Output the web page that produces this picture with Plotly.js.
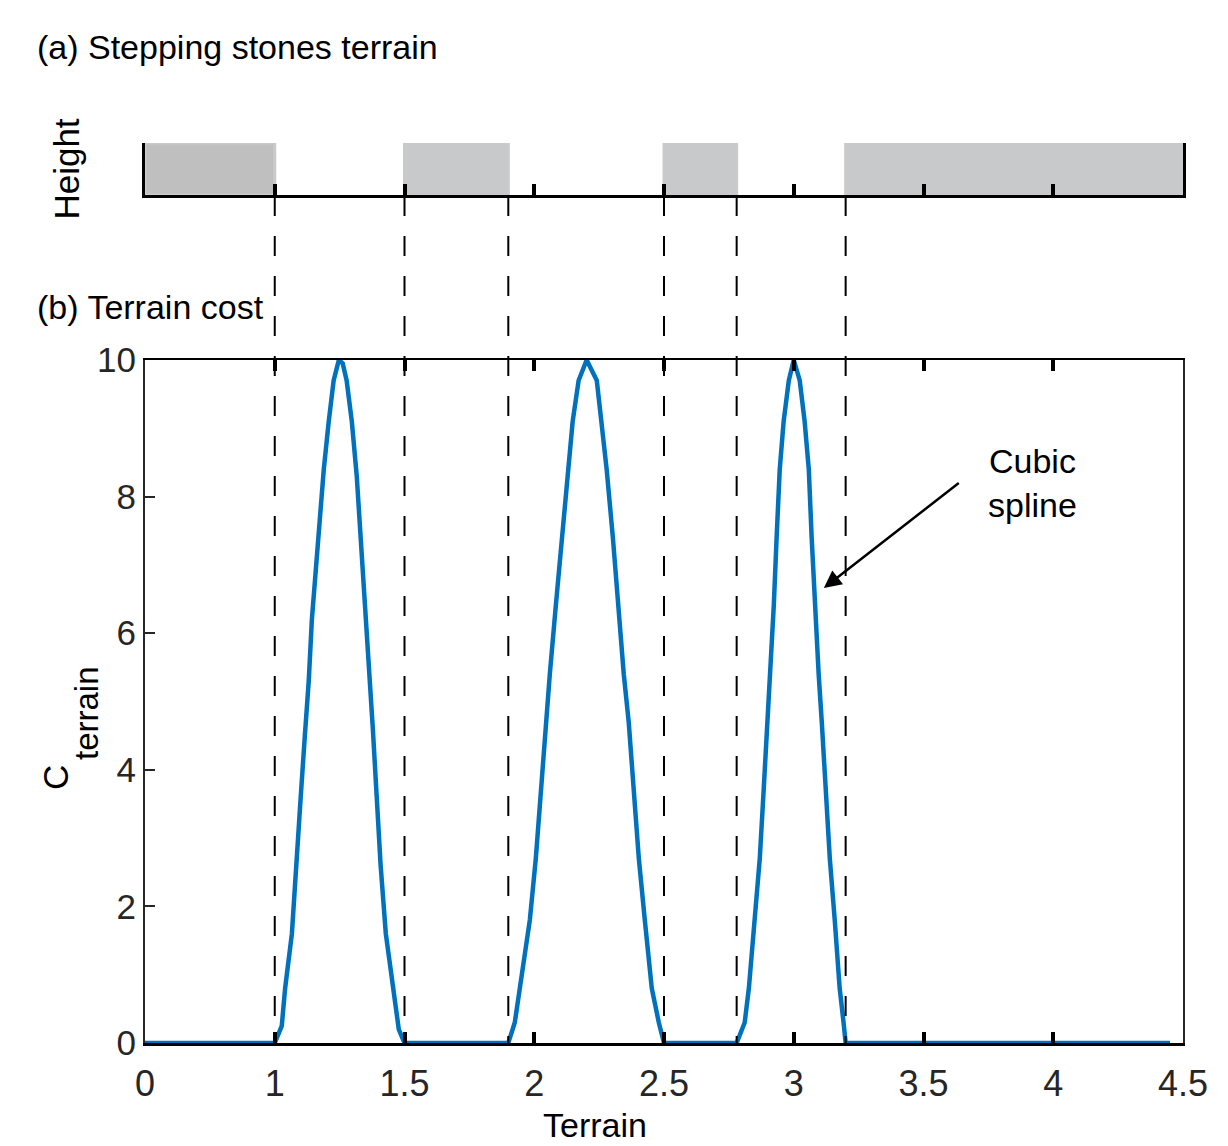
<!DOCTYPE html>
<html>
<head>
<meta charset="utf-8">
<script src="https://cdn.plot.ly/plotly-3.0.1.min.js"></script>
<style>html,body{margin:0;padding:0;background:#fff;}#chart{width:1228px;height:1146px;}</style>
</head>
<body>
<div id="chart"></div>
<script>
// ---------- data ----------
// stepping stones (terrain x-positions of each stone's start and end, height)
const stoneStart = [0.5, 1.5, 2.5, 3.2];
const stoneEnd   = [1.0, 1.9, 2.78, 4.5];
const stoneHeight = [1, 1, 1, 1];

// boundaries of the stones (dashed guide lines)
const stoneEdges = [1.0, 1.5, 1.9, 2.5, 2.78, 3.2];

// terrain cost curve (cubic spline)
const costX = [
  0.5, 1.0, 1.027, 1.04, 1.066, 1.081, 1.1, 1.116, 1.131, 1.143, 1.162, 1.177, 1.189, 1.208, 1.227, 1.247,
  1.262, 1.277, 1.297, 1.316, 1.331, 1.351, 1.366, 1.378, 1.393, 1.408, 1.428, 1.455, 1.478, 1.5,
  1.9, 1.925, 1.944, 1.983, 2.006, 2.025, 2.044, 2.06, 2.083, 2.106, 2.129, 2.148, 2.171, 2.202,
  2.241, 2.26, 2.279, 2.303, 2.322, 2.345, 2.364, 2.383, 2.403, 2.426, 2.453, 2.48, 2.5,
  2.78, 2.811, 2.827, 2.85, 2.869, 2.884, 2.9, 2.908, 2.923, 2.934, 2.946, 2.961, 2.981, 3.0, 3.008,
  3.023, 3.042, 3.058, 3.069, 3.081, 3.096, 3.108, 3.123, 3.139, 3.158, 3.177, 3.192, 3.2,
  4.45
];
const costY = [
  0, 0, 0.25, 0.8, 1.6, 2.6, 3.6, 4.5, 5.3, 6.2, 7.2, 7.9, 8.4, 9.1, 9.7, 10,
  9.95, 9.7, 9.1, 8.3, 7.4, 6.4, 5.5, 4.6, 3.6, 2.6, 1.6, 0.8, 0.2, 0,
  0, 0.3, 0.8, 1.8, 2.7, 3.7, 4.7, 5.4, 6.4, 7.4, 8.4, 9.1, 9.7, 10,
  9.7, 9.1, 8.4, 7.4, 6.4, 5.4, 4.7, 3.7, 2.7, 1.8, 0.8, 0.3, 0,
  0, 0.3, 0.8, 1.8, 2.7, 3.7, 4.7, 5.4, 6.4, 7.4, 8.4, 9.1, 9.7, 10, 9.9,
  9.7, 9.1, 8.4, 7.4, 6.4, 5.4, 4.7, 3.7, 2.7, 1.8, 0.8, 0.3, 0,
  0
];

// axis ticks
const xTickVals  = [0.5, 1, 1.5, 2, 2.5, 3, 3.5, 4, 4.5];
const xTickText  = ['0', '1', '1.5', '2', '2.5', '3', '3.5', '4', '4.5'];
const yTickVals  = [0, 2, 4, 6, 8, 10];

// texts
const titleA = '(a) Stepping stones terrain';
const titleB = '(b) Terrain cost';
const heightLabel = 'Height';
const costLabelMain = 'C';
const costLabelSub = 'terrain';
const xLabel = 'Terrain';
const noteText = 'Cubic<br>spline';
const arrowHead = [3.116, 6.66];   // where the arrow points (terrain, cost)
const arrowTail = [3.636, 8.2];    // where the arrow starts, at the note

// ---------- layout helpers ----------
const W = 1228, H = 1146;
const L = 145, R = 45, PW = W - L - R;
const py = p => (H - p) / H;          // pixel row -> paper fraction (margins t=b=0)
const px = p => (p - L) / PW;         // pixel column -> paper fraction
const FONT = 'Liberation Sans, Arial, Helvetica, sans-serif';
const DARK = '#262626';

const stoneMid = stoneStart.map((s, i) => (s + stoneEnd[i]) / 2);
const stoneWidth = stoneStart.map((s, i) => stoneEnd[i] - s);

const traces = [
  {
    type: 'bar', x: stoneMid, y: stoneHeight, width: stoneWidth,
    xaxis: 'x2', yaxis: 'y2',
    marker: {color: ['#bfbfbf', '#c8c9cb', '#c8c9cb', '#c8c9cb'], line: {color: '#c9cacc', width: 3}},
    hoverinfo: 'skip', showlegend: false
  },
  {
    type: 'scatter', mode: 'lines', x: costX, y: costY,
    line: {color: '#0072BD', width: 4.5},
    showlegend: false, hoverinfo: 'skip'
  }
];

const shapes = stoneEdges.map(e => ({
  type: 'line', xref: 'x', yref: 'paper',
  x0: e, x1: e, y0: py(196), y1: py(1043),
  line: {color: '#000', width: 2, dash: '20px,20px'}
}));

const layout = {
  width: W, height: H,
  margin: {l: L, r: R, t: 0, b: 0},
  paper_bgcolor: '#fff', plot_bgcolor: 'rgba(0,0,0,0)',
  font: {family: FONT, size: 34, color: DARK},
  showlegend: false,
  bargap: 0,
  xaxis: {
    domain: [0, 1], anchor: 'y', range: [0.5, 4.5],
    tickmode: 'array', tickvals: xTickVals, ticktext: xTickText,
    ticks: 'inside', ticklen: 11, tickwidth: 4, tickcolor: '#000',
    showline: true, linecolor: '#000', linewidth: 2.5, mirror: 'ticks',
    showgrid: false, zeroline: false,
    tickfont: {size: 36, color: DARK, family: FONT},
    ticklabelstandoff: 7
  },
  yaxis: {
    domain: [py(1043), py(360)], anchor: 'x', range: [0, 10],
    tickmode: 'array', tickvals: yTickVals,
    ticks: 'inside', ticklen: 10, tickwidth: 2, tickcolor: DARK,
    showline: true, linecolor: DARK, linewidth: 2, mirror: true,
    showgrid: false, zeroline: false,
    tickfont: {size: 35, color: DARK, family: FONT},
    ticklabelstandoff: 0
  },
  xaxis2: {
    domain: [0, 1], anchor: 'y2', range: [0.5, 4.5],
    tickmode: 'array', tickvals: xTickVals.slice(1, -1), showticklabels: false,
    ticks: 'inside', ticklen: 11, tickwidth: 4, tickcolor: '#000',
    showline: true, linecolor: '#000', linewidth: 3, mirror: false,
    showgrid: false, zeroline: false
  },
  yaxis2: {
    domain: [py(195), py(143)], anchor: 'x2', range: [0, 1],
    showticklabels: false, ticks: '',
    showline: true, linecolor: '#000', linewidth: 3, mirror: true,
    showgrid: false, zeroline: false,
    title: {text: heightLabel, font: {size: 35, color: '#000', family: FONT}, standoff: 52}
  },
  shapes: shapes,
  annotations: [
    {text: titleA, xref: 'paper', yref: 'paper', x: px(35), y: py(47),
     xanchor: 'left', yanchor: 'middle', showarrow: false, font: {size: 34, color: '#000', family: FONT}},
    {text: titleB, xref: 'paper', yref: 'paper', x: px(35), y: py(307),
     xanchor: 'left', yanchor: 'middle', showarrow: false, font: {size: 34, color: '#000', family: FONT}},
    // y-axis title: C with subscript "terrain"
    {text: costLabelMain, xref: 'paper', yref: 'paper', x: px(55), y: py(778), textangle: -90,
     xanchor: 'center', yanchor: 'middle', showarrow: false, font: {size: 35, color: '#000', family: FONT}},
    {text: costLabelSub, xref: 'paper', yref: 'paper', x: px(87), y: py(713), textangle: -90,
     xanchor: 'center', yanchor: 'middle', showarrow: false, font: {size: 33, color: '#000', family: FONT}},
    // x-axis title, kept just inside the bottom edge
    {text: xLabel, xref: 'paper', yref: 'paper', x: px(595), y: 0,
     xanchor: 'center', yanchor: 'bottom', showarrow: false, font: {size: 34, color: '#000', family: FONT}},
    // note with arrow
    {text: noteText, xref: 'x', yref: 'y', x: arrowHead[0], y: arrowHead[1],
     axref: 'x', ayref: 'y', ax: arrowTail[0], ay: arrowTail[1],
     xanchor: 'left', yanchor: 'middle', align: 'center', borderpad: 28,
     showarrow: true, arrowhead: 2, arrowsize: 1.4, arrowwidth: 2.5, arrowcolor: '#000',
     font: {size: 34, color: '#000', family: FONT}}
  ]
};

Plotly.newPlot('chart', traces, layout, {displayModeBar: false, staticPlot: true});
</script>
</body>
</html>
